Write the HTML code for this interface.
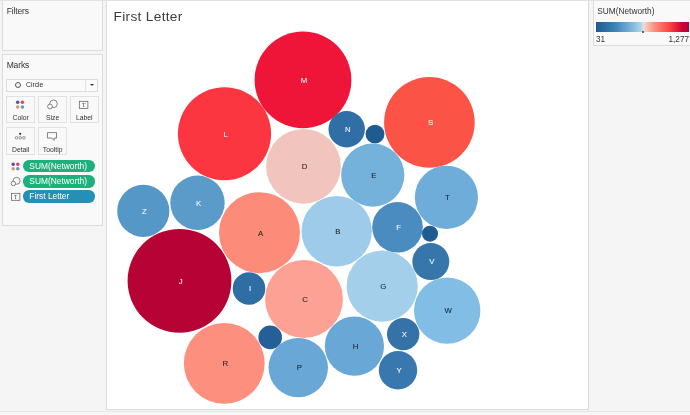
<!DOCTYPE html>
<html><head><meta charset="utf-8"><title>First Letter</title>
<style>
html,body{margin:0;padding:0}
body{width:690px;height:415px;overflow:hidden;background:#f5f5f5;font-family:"Liberation Sans",sans-serif;color:#333;position:relative}
.box{position:absolute;background:#f9f9f9;border:1px solid #dcdcdc;box-sizing:border-box}
.ttl{position:absolute;font-size:8.5px;color:#333;line-height:10px;letter-spacing:-0.15px}
#main{position:absolute;left:106px;top:0;width:482.8px;height:410px;background:#fff;border:1px solid #dcdcdc;box-sizing:border-box}
#title{position:absolute;left:113.6px;top:9.1px;font-size:13.7px;line-height:16px;color:#3c3c3c;letter-spacing:0.3px}
svg text{font-family:"Liberation Sans",sans-serif;font-size:7.8px}
.btn{position:absolute;width:28.6px;height:27.3px;border:1px solid #e2e2e2;box-sizing:border-box;background:#f9f9f9;font-size:6.8px;text-align:center}
.btn span{position:absolute;left:0;right:0;top:17.5px;line-height:8px}
.pill{position:absolute;left:22.8px;width:72.3px;height:12.4px;border-radius:6.2px;color:#fff;font-size:8.4px;line-height:13.2px;padding-left:6.5px;box-sizing:border-box;white-space:nowrap}
.g{background:#1db07c} .b{background:#2590b6}
</style></head><body>
<div class="box" style="left:2.4px;top:0;width:100.4px;height:50.5px"></div>
<div class="ttl" style="left:6.7px;top:5.5px">Filters</div>
<div class="box" style="left:2.4px;top:54.3px;width:100.4px;height:172.2px"></div>
<div class="ttl" style="left:6.7px;top:60px">Marks</div>
<div class="box" style="left:6.4px;top:78.5px;width:91.6px;height:13px;background:#fafafa"></div>
<div style="position:absolute;left:85px;top:79px;width:1px;height:12px;background:#e2e2e2"></div>
<div style="position:absolute;left:14.8px;top:81.6px;width:6.6px;height:6.6px;border:0.7px solid #555;border-radius:50%;box-sizing:border-box"></div>
<div style="position:absolute;left:26px;top:81px;font-size:6.8px;line-height:8px">Circle</div>
<div style="position:absolute;left:89.5px;top:84px;width:0;height:0;border-left:2px solid transparent;border-right:2px solid transparent;border-top:2.5px solid #333"></div>

<div class="btn" style="left:6.4px;top:95.7px"><span>Color</span></div>
<div class="btn" style="left:38.4px;top:95.7px"><span>Size</span></div>
<div class="btn" style="left:70px;top:95.7px"><span>Label</span></div>
<div class="btn" style="left:6.4px;top:127.3px"><span>Detail</span></div>
<div class="btn" style="left:38.4px;top:127.3px"><span>Tooltip</span></div>

<div class="pill g" style="top:160.1px">SUM(Networth)</div>
<div class="pill g" style="top:175.2px">SUM(Networth)</div>
<div class="pill b" style="top:190.4px">First Letter</div>

<svg style="position:absolute;left:0;top:0" width="115" height="230" viewBox="0 0 115 230">
<!-- color icon btn -->
<g id="dots1"><circle cx="17.7" cy="102.3" r="1.75" fill="#5b4f9a"/><circle cx="22.4" cy="102.3" r="1.75" fill="#d8475d"/><circle cx="17.7" cy="106.9" r="1.75" fill="#e9916a"/><circle cx="22.4" cy="106.9" r="1.75" fill="#5f95c2"/></g>
<!-- size icon -->
<g fill="none" stroke="#555" stroke-width="0.7"><circle cx="53.5" cy="103.8" r="3.8"/><circle cx="50" cy="106.5" r="2.4" fill="#f9f9f9"/></g>
<!-- label icon -->
<g><rect x="79.3" y="101.3" width="8.6" height="7.2" fill="none" stroke="#555" stroke-width="0.7"/><text x="83.6" y="107" text-anchor="middle" style="font-family:'Liberation Serif',serif;font-size:5.5px" fill="#333">T</text></g>
<!-- detail icon -->
<g><circle cx="20.2" cy="133.8" r="1.1" fill="#333"/><g fill="none" stroke="#555" stroke-width="0.6"><circle cx="16.5" cy="137.8" r="1.3"/><circle cx="20.2" cy="137.8" r="1.3"/><circle cx="23.9" cy="137.8" r="1.3"/></g></g>
<!-- tooltip icon -->
<path d="M47.5 132.6 h9 v5.5 h-2.4 v2.2 l-2.2 -2.2 h-4.4 z" fill="none" stroke="#555" stroke-width="0.7" stroke-linejoin="round"/>
<!-- pill icons -->
<g><circle cx="13.2" cy="164.2" r="1.75" fill="#5b4f9a"/><circle cx="17.8" cy="164.2" r="1.75" fill="#d8475d"/><circle cx="13.2" cy="168.8" r="1.75" fill="#e9916a"/><circle cx="17.8" cy="168.8" r="1.75" fill="#5f95c2"/></g>
<g fill="none" stroke="#555" stroke-width="0.7"><circle cx="16.6" cy="180.8" r="3.5"/><circle cx="13.4" cy="183.5" r="2.2" fill="#f9f9f9"/></g>
<g><rect x="11.5" y="193.3" width="8.4" height="7" fill="none" stroke="#555" stroke-width="0.7"/><text x="15.7" y="198.8" text-anchor="middle" style="font-family:'Liberation Serif',serif;font-size:5.3px" fill="#333">T</text></g>
</svg>

<div id="main"></div>
<div id="title">First Letter</div>
<svg style="position:absolute;left:0;top:0" width="690" height="415" viewBox="0 0 690 415">
<circle cx="303" cy="79.9" r="48.4" fill="#ee1538"/>
<circle cx="224.5" cy="133.75" r="46.6" fill="#fb3640"/>
<circle cx="429.4" cy="122.4" r="45.3" fill="#fb5446"/>
<circle cx="303.5" cy="166.3" r="37.4" fill="#f2c4be"/>
<circle cx="346.7" cy="129.2" r="18.2" fill="#2f6fa5"/>
<circle cx="375" cy="134.2" r="9.4" fill="#1e5b91"/>
<circle cx="372.75" cy="175.1" r="31.6" fill="#74b2dc"/>
<circle cx="446.4" cy="197.3" r="31.6" fill="#6eadd9"/>
<circle cx="197.5" cy="202.8" r="27.2" fill="#5a9bc9"/>
<circle cx="143.3" cy="210.9" r="26.1" fill="#5597c7"/>
<circle cx="259.5" cy="232.7" r="40.5" fill="#fc8b79"/>
<circle cx="336.7" cy="231.2" r="35.2" fill="#9dcbe9"/>
<circle cx="397.5" cy="227.3" r="25.3" fill="#4a8cbf"/>
<circle cx="430" cy="233.7" r="8" fill="#1e5c93"/>
<circle cx="430.8" cy="261.6" r="18.5" fill="#3776ab"/>
<circle cx="179.5" cy="280.8" r="51.9" fill="#b70235"/>
<circle cx="249" cy="288.5" r="16.3" fill="#2f6ea5"/>
<circle cx="304" cy="299" r="38.9" fill="#fca193"/>
<circle cx="382.2" cy="286.2" r="35.6" fill="#a3cfea"/>
<circle cx="447.2" cy="310.6" r="33.2" fill="#81bde5"/>
<circle cx="224.25" cy="363.4" r="40.4" fill="#fd8f7e"/>
<circle cx="270.2" cy="337.4" r="11.8" fill="#245f98"/>
<circle cx="298.25" cy="367.6" r="29.7" fill="#68a7d6"/>
<circle cx="354.4" cy="346.2" r="29.6" fill="#69a8d6"/>
<circle cx="403.2" cy="334.1" r="16.2" fill="#3472a8"/>
<circle cx="398" cy="370.2" r="19.2" fill="#3978ae"/>
<text x="304.10" y="82.75" fill="#fff" stroke="#fff" stroke-width="0.05" text-anchor="middle">M</text>
<text x="225.60" y="136.60" fill="#fff" stroke="#fff" stroke-width="0.05" text-anchor="middle">L</text>
<text x="430.50" y="125.25" fill="#fff" stroke="#fff" stroke-width="0.05" text-anchor="middle">S</text>
<text x="304.60" y="169.15" fill="#222" stroke="#222" stroke-width="0.06" text-anchor="middle">D</text>
<text x="347.80" y="132.05" fill="#fff" stroke="#fff" stroke-width="0.05" text-anchor="middle">N</text>
<text x="373.85" y="177.95" fill="#222" stroke="#222" stroke-width="0.06" text-anchor="middle">E</text>
<text x="447.50" y="200.15" fill="#222" stroke="#222" stroke-width="0.06" text-anchor="middle">T</text>
<text x="198.60" y="205.65" fill="#fff" stroke="#fff" stroke-width="0.05" text-anchor="middle">K</text>
<text x="144.40" y="213.75" fill="#fff" stroke="#fff" stroke-width="0.05" text-anchor="middle">Z</text>
<text x="260.60" y="235.55" fill="#222" stroke="#222" stroke-width="0.06" text-anchor="middle">A</text>
<text x="337.80" y="234.05" fill="#222" stroke="#222" stroke-width="0.06" text-anchor="middle">B</text>
<text x="398.60" y="230.15" fill="#fff" stroke="#fff" stroke-width="0.05" text-anchor="middle">F</text>
<text x="431.90" y="264.45" fill="#fff" stroke="#fff" stroke-width="0.05" text-anchor="middle">V</text>
<text x="180.60" y="283.65" fill="#fff" stroke="#fff" stroke-width="0.05" text-anchor="middle">J</text>
<text x="250.10" y="291.35" fill="#fff" stroke="#fff" stroke-width="0.05" text-anchor="middle">I</text>
<text x="305.10" y="301.85" fill="#222" stroke="#222" stroke-width="0.06" text-anchor="middle">C</text>
<text x="383.30" y="289.05" fill="#222" stroke="#222" stroke-width="0.06" text-anchor="middle">G</text>
<text x="448.30" y="313.45" fill="#222" stroke="#222" stroke-width="0.06" text-anchor="middle">W</text>
<text x="225.35" y="366.25" fill="#222" stroke="#222" stroke-width="0.06" text-anchor="middle">R</text>
<text x="299.35" y="370.45" fill="#222" stroke="#222" stroke-width="0.06" text-anchor="middle">P</text>
<text x="355.50" y="349.05" fill="#222" stroke="#222" stroke-width="0.06" text-anchor="middle">H</text>
<text x="404.30" y="336.95" fill="#fff" stroke="#fff" stroke-width="0.05" text-anchor="middle">X</text>
<text x="399.10" y="373.05" fill="#fff" stroke="#fff" stroke-width="0.05" text-anchor="middle">Y</text>
</svg>

<div class="box" style="left:593px;top:0;width:100px;height:46px"></div>
<div class="ttl" style="left:597.3px;top:5.6px;font-size:8.3px;letter-spacing:0">SUM(Networth)</div>
<div style="position:absolute;left:596px;top:22.3px;width:93.4px;height:9.3px;background:linear-gradient(to right,#1a5a94 0%,#3d82b6 20%,#7ab5dc 38%,#b3d7ec 49%,#f6dad4 51%,#fb8e7c 63%,#f9403f 80%,#d0063a 92%,#b80034 100%)"></div>
<div style="position:absolute;left:642px;top:30.8px;width:2px;height:2px;background:#333;border-radius:50%"></div>
<div class="ttl" style="left:596px;top:35px;font-size:8.2px;letter-spacing:0">31</div>
<div class="ttl" style="right:1px;top:35px;font-size:8.2px;letter-spacing:0">1,277</div>
<div style="position:absolute;left:0;top:411px;width:690px;height:4px;background:#f7f7f7;border-top:1px solid #e6e6e6;box-sizing:border-box"></div>
<div style="position:absolute;left:0;top:0;width:690px;height:1px;background:#e2e2e2"></div>
</body></html>
